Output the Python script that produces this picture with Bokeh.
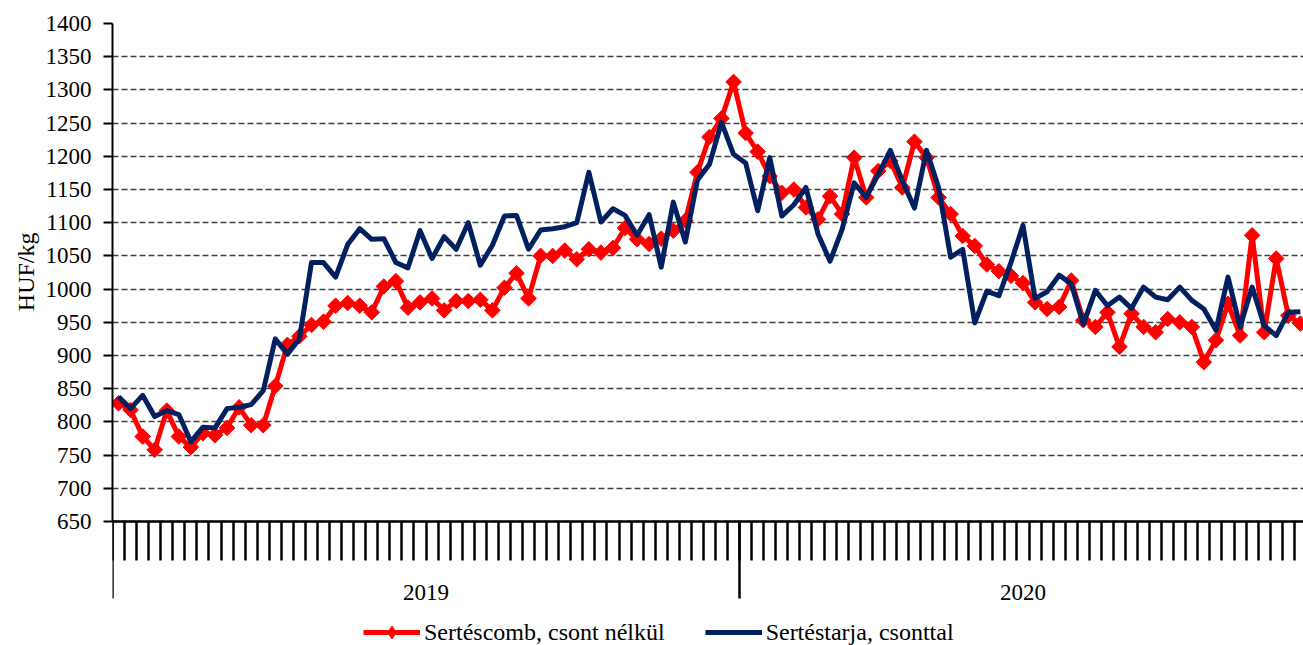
import numpy as np
from bokeh.plotting import figure
from bokeh.models import (Range1d, FixedTicker, Legend, LegendItem,
                          LinearAxis, ColumnDataSource, Title)
from bokeh.core.properties import value
from bokeh.embed import file_html
from bokeh.resources import INLINE

# ---------------- data ----------------
years = ["2019", "2020"]
weeks_per_year = [52, 47]

sertescomb = [  # Sertéscomb, csont nélkül (HUF/kg), weekly
    828, 818, 778, 758, 817, 778, 762, 783, 780, 791,
    822, 795, 795, 854, 916, 929, 946, 951, 975, 979,
    975, 965, 1004, 1012, 972, 980, 986, 968, 982, 982,
    984, 968, 1002, 1024, 986, 1050, 1050, 1058, 1045, 1060,
    1055, 1062, 1092, 1075, 1068, 1076, 1088, 1103, 1176, 1229,
    1257, 1312, 1235, 1207, 1170, 1145, 1150, 1123, 1105, 1140,
    1113, 1198, 1138, 1178, 1193, 1153, 1222, 1198, 1138, 1113,
    1080, 1065, 1037, 1027, 1020, 1009, 980, 970, 973, 1013,
    953, 943, 965, 913, 963, 943, 935, 955, 950, 943,
    890, 923, 978, 930, 1081, 935, 1046, 960, 948,
]

sertestarja = [  # Sertéstarja, csonttal (HUF/kg), weekly
    838, 820, 840, 808, 817, 811, 770, 792, 791, 820,
    822, 826, 847, 925, 902, 925, 1040, 1040, 1018, 1067,
    1091, 1075, 1076, 1040, 1032, 1088, 1046, 1079, 1060, 1100,
    1036, 1066, 1110, 1111, 1060, 1089, 1091, 1094, 1100, 1176,
    1101, 1121, 1111, 1081, 1112, 1033, 1131, 1071, 1164, 1188,
    1251, 1203, 1190, 1118, 1198, 1110, 1127, 1153, 1083, 1042,
    1090, 1160, 1138, 1173, 1209, 1163, 1122, 1209, 1153, 1048,
    1060, 949, 997, 990, 1040, 1096, 986, 996, 1021, 1008,
    947, 998, 975, 988, 971, 1003, 988, 984, 1003, 983,
    970, 938, 1018, 943, 1003, 945, 930, 965, 966,
]

y_ticks = list(range(650, 1401, 50))
series_names = ["Sertéscomb, csont nélkül", "Sertéstarja, csonttal"]
y_title = "HUF/kg"

# ---------------- chart ----------------
FONT = "Liberation Serif"
RED = "#FF0000"
NAVY = "#002060"

n = len(sertescomb)
week_idx = list(range(n))
src = ColumnDataSource(dict(week=week_idx, comb=sertescomb, tarja=sertestarja))

# plot area 23..521 px holds 650..1400; the frame continues below it to the
# bottom of the figure so the category ticks, year labels and legend fit in it
Y_MIN, Y_MAX = y_ticks[0], y_ticks[-1]
PX = 498.0 / (Y_MAX - Y_MIN)          # px per HUF
FRAME_EXTRA = 124                      # px below the 650 line
Y_BOTTOM = Y_MIN - FRAME_EXTRA / PX

p = figure(width=1303, height=645, output_backend="svg", toolbar_location=None,
           x_range=Range1d(-0.5, 98.26), y_range=Range1d(Y_BOTTOM, Y_MAX),
           x_axis_type=None, min_border_left=112, min_border_top=23,
           min_border_bottom=0, min_border_right=0)
p.outline_line_color = None
p.background_fill_color = "white"
p.border_fill_color = "white"

# y axis
ya = p.yaxis[0]
ya.bounds = (Y_MIN, Y_MAX)
ya.ticker = FixedTicker(ticks=y_ticks)
ya.axis_line_width = 2
ya.axis_line_color = "black"
ya.major_tick_line_width = 2
ya.major_tick_line_color = "black"
ya.major_tick_out = 9
ya.major_tick_in = 0
ya.minor_tick_out = 0
ya.minor_tick_in = 0
ya.major_label_text_font = FONT
ya.major_label_text_font_size = "23px"
ya.major_label_text_color = "black"
ya.major_label_standoff = 12

# y axis title, placed along the 650..1400 part of the frame
p.add_layout(Title(text=y_title, align="right", offset=209, standoff=8,
                   vertical_align="bottom", text_font=FONT,
                   text_font_size="24px", text_font_style="normal",
                   text_color="black"), "left")

p.ygrid.ticker = FixedTicker(ticks=y_ticks)
p.ygrid.grid_line_color = "#404040"
p.ygrid.grid_line_dash = "6 3"
p.ygrid.grid_line_width = 1.3

# category boundaries, year edges, year centres
boundaries = [i - 0.5 for i in range(n + 1)]
year_edges = [-0.5]
year_centres = []
acc = -0.5
for w in weeks_per_year:
    year_centres.append(acc + w / 2.0)
    acc += w
    year_edges.append(acc)

# x axis line at 650
x_line = LinearAxis(fixed_location=Y_MIN, ticker=FixedTicker(ticks=[]))
x_line.axis_line_width = 2.5
x_line.axis_line_color = "black"
x_line.major_tick_out = 0
x_line.major_tick_in = 0
x_line.minor_tick_out = 0
x_line.minor_tick_in = 0
x_line.major_label_standoff = 0
p.add_layout(x_line, "below")

# short ticks at every week boundary (39 px below the axis line)
x_short = LinearAxis(fixed_location=Y_MIN - 39 / PX,
                     ticker=FixedTicker(ticks=[], minor_ticks=boundaries))
x_short.axis_line_color = None
x_short.major_tick_out = 0
x_short.major_tick_in = 0
x_short.minor_tick_out = 0
x_short.minor_tick_in = 39
x_short.minor_tick_line_width = 2.5
x_short.minor_tick_line_color = "black"
x_short.major_label_standoff = 0
p.add_layout(x_short, "below")

# long ticks at the year edges (77 px below the axis line)
x_long = LinearAxis(fixed_location=Y_MIN - 77 / PX,
                    ticker=FixedTicker(ticks=[], minor_ticks=year_edges))
x_long.axis_line_color = None
x_long.major_tick_out = 0
x_long.major_tick_in = 0
x_long.minor_tick_out = 0
x_long.minor_tick_in = 77
x_long.minor_tick_line_width = 2.5
x_long.minor_tick_line_color = "black"
x_long.major_label_standoff = 0
p.add_layout(x_long, "below")

# year labels centred under their weeks
p.text(x=year_centres, y=[Y_MIN - 71 / PX] * len(years), text=years,
       text_align="center", text_baseline="alphabetic",
       text_font=value(FONT), text_font_size="23px", text_color="black")

# series
r1 = p.line("week", "comb", source=src, line_color=RED, line_width=5,
            line_join="round")
r1s = p.scatter("week", "comb", source=src, marker="square", angle=np.pi / 4,
                size=11, fill_color=RED, line_color=RED)
r2 = p.line("week", "tarja", source=src, line_color=NAVY, line_width=5,
            line_join="round")
# diamond used only for the legend swatch (legend markers are drawn unrotated)
r1_leg = p.scatter("week", "comb", source=src, marker="diamond", size=14,
                   fill_color=RED, line_color=RED, visible=False)

legend = Legend(items=[LegendItem(label=series_names[0], renderers=[r1, r1_leg]),
                       LegendItem(label=series_names[1], renderers=[r2])],
                orientation="horizontal", location=(251, -3),
                glyph_width=57, glyph_height=32, label_standoff=4, spacing=40,
                padding=0, margin=0, border_line_color=None,
                background_fill_alpha=0, label_text_font=FONT,
                label_text_font_size="24px", label_text_color="black",
                click_policy="none")
p.add_layout(legend)

open("out.html", "w").write(file_html(p, INLINE))
